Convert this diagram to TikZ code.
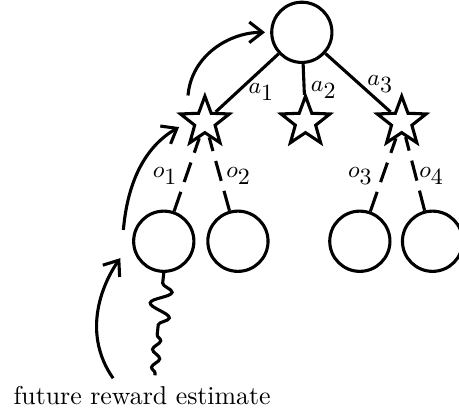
\documentclass[tikz,border=0pt]{standalone}
\usepackage{tikz}
\usetikzlibrary{arrows.meta}
\usetikzlibrary{shapes}
\usetikzlibrary{decorations.pathmorphing}

\begin{document}
\begin{tikzpicture}[
	belief/.style={circle, draw, very thick, minimum size=0.82cm, inner sep=0pt},
	action/.style={star, star points=5, star point ratio=2.4, draw, very thick, minimum size=0.7cm, inner sep=0pt},
	lbl/.style={font=\fontsize{18pt}{20pt}\selectfont, inner sep=0pt},
	obs/.style={very thick, dash pattern=on 8pt off 4pt},
	backup/.style={very thick, -{Straight Barb[length=1.8mm, width=2.8mm]}}
	]
	\useasboundingbox (0,0) rectangle (6.25,5.56);
	
	% draw nodes
	\node[belief] (root) at (4.11,5.12) {};
	\node[action] (s1) at (2.79,3.90) {};
	\node[action] (s2) at (4.16,3.90) {};
	\node[action] (s3) at (5.47,3.90) {};
	\node[belief] (l1) at (2.23,2.275) {};
	\node[belief] (l2) at (3.24,2.275) {};
	\node[belief] (l3) at (4.90,2.275) {};
	\node[belief] (l4) at (5.89,2.275) {};
	\node (est) [anchor=base west] at (0.06,0.05) {future reward estimate};
	
	% free ends
	\coordinate (c1) at (2.56,4.26);
	\coordinate (c2) at (1.68,2.43);
	\coordinate (c3) at (1.54,0.41);
	\coordinate (sq) at (2.14,1.0);
	\coordinate (sqend) at (2.11,0.45);
	
	% draw edges
	\draw[very thick] (root) -- (s1);
	\draw[very thick] (root) -- (s2);
	\draw[very thick] (root) -- (s3);
	\draw[obs] (l1) -- (s1);
	\draw[obs] (l2) -- (s1);
	\draw[obs] (l3) -- (s3);
	\draw[obs] (l4) -- (s3);
	
	% draw labels
	\node[lbl] (a1) at (3.56,4.31) {$\scriptscriptstyle a_1$};
	\node[lbl] (a2) at (4.41,4.33) {$\scriptscriptstyle a_2$};
	\node[lbl] (a3) at (5.18,4.42) {$\scriptscriptstyle a_3$};
	\node[lbl] (o1) at (2.25,3.17) {$\scriptscriptstyle o_1$};
	\node[lbl] (o2) at (3.25,3.17) {$\scriptscriptstyle o_2$};
	\node[lbl] (o3) at (4.91,3.17) {$\scriptscriptstyle o_3$};
	\node[lbl] (o4) at (5.88,3.17) {$\scriptscriptstyle o_4$};
	
	% draw arrows
	\draw[backup, shorten >=2pt] (c1) to[out=85, in=180] (root.west);
	\draw[backup, shorten >=4pt] (c2) to[out=85, in=210] (s1.west);
	\draw[backup, shorten >=8pt] (c3) to[out=125, in=235] (l1.west);
	
	% draw rollout
	\draw[very thick, decorate, decoration={snake, amplitude=4pt, segment length=10pt, pre length=4pt}] (l1.south) -- (sq);
	\draw[very thick, decorate, decoration={snake, amplitude=1.5pt, segment length=7pt}] (sq) -- (sqend);
\end{tikzpicture}
\end{document}
